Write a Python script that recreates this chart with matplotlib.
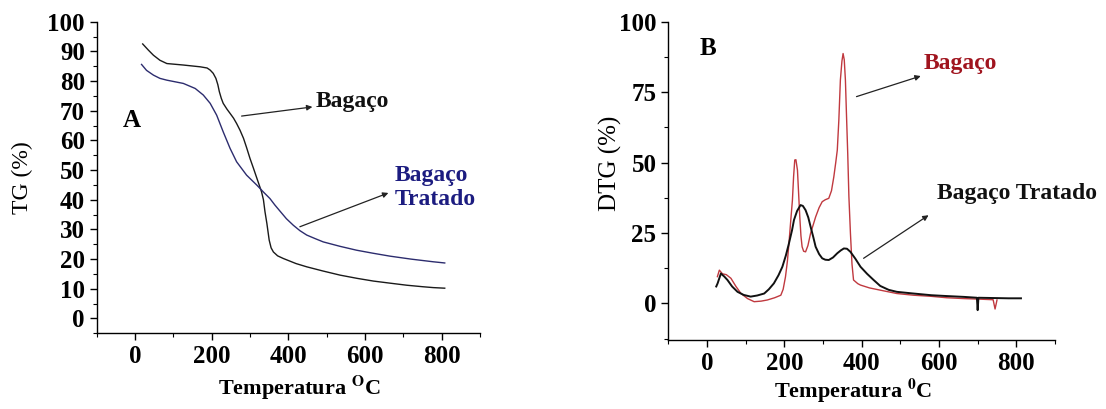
import matplotlib
matplotlib.use("Agg")
import matplotlib.pyplot as plt
from matplotlib.ticker import MultipleLocator

plt.rcParams['font.family'] = ['Liberation Serif', 'DejaVu Serif']
plt.rcParams['mathtext.fontset'] = 'stix'

# ---- Panel A: TG ----
tg_bagaco_x = [20, 35, 48, 65, 83, 126, 170, 188, 196, 204, 211, 216, 220, 225, 230, 240, 248, 257, 265, 274, 283, 291,
               300, 309, 318, 330, 335, 339, 344, 350, 355, 361, 372, 387, 420, 448, 490, 535, 580, 622, 665, 709, 750, 778, 808]
tg_bagaco_y = [92.5, 90.4, 88.7, 87.0, 85.9, 85.4, 84.8, 84.4, 83.7, 82.6, 80.9, 78.8, 76.4, 74.2, 72.5, 70.5, 69.1, 67.5, 65.7, 63.4, 60.7, 57.6,
               53.9, 50.6, 47.2, 42.7, 40.0, 36.0, 32.0, 26.4, 23.8, 22.4, 21.1, 20.2, 18.5, 17.4, 16.0, 14.6, 13.5, 12.6, 11.9, 11.2, 10.7, 10.4, 10.2]
tg_tratado_x = [17, 30, 48, 65, 83, 126, 157, 178, 196, 213, 230, 248, 265, 291, 318, 335, 352, 365, 378, 395, 413, 430,
                448, 470, 491, 535, 578, 620, 665, 720, 778, 808]
tg_tratado_y = [85.6, 83.6, 82.0, 80.9, 80.3, 79.2, 77.5, 75.3, 72.5, 68.5, 62.9, 57.3, 52.8, 48.3, 44.9, 42.6, 40.4, 38.2, 36.2, 33.6, 31.4, 29.6,
                28.1, 26.9, 25.8, 24.3, 23.0, 22.0, 21.0, 20.0, 19.1, 18.7]

# ---- Panel B: DTG ----
dtg_bagaco_x = [27, 32, 40, 50, 62, 75, 88, 105, 122, 140, 156, 175, 191, 197, 203, 208, 212, 217, 221, 224, 227, 230, 234,
                237, 240, 243, 246, 250, 255, 261, 268, 275, 281, 290, 298, 306, 315, 322, 328, 333, 337, 341, 345, 349,
                352, 355, 358, 361, 364, 367, 371, 375, 379, 390, 397, 420, 448, 491, 534, 580, 620, 665, 706, 740, 745, 750]
dtg_bagaco_y = [9.5, 11.8, 10.5, 10.2, 8.9, 6.0, 3.5, 1.7, 0.6, 0.8, 1.2, 2.0, 2.9, 5.0, 9.4, 15.0, 21.3, 30.0, 36.7, 45.0, 50.9, 51.0, 47.3,
                39.0, 30.7, 24.0, 20.1, 18.5, 18.3, 20.5, 24.9, 28.0, 30.7, 34.0, 36.1, 36.8, 37.3, 40.0, 44.9, 50.0, 54.4, 65.0, 79.3, 86.0,
                88.7, 86.5, 79.3, 66.0, 53.2, 38.0, 24.9, 14.0, 8.3, 7.0, 6.5, 5.5, 4.7, 3.5, 2.9, 2.5, 2.0, 1.7, 1.5, 1.3, -2.0, 1.2]
dtg_tratado_x = [24, 27.5, 36, 45, 53, 65, 79, 95, 113, 130, 148, 160, 173, 185, 195, 204, 212, 220, 225, 233, 242, 248, 255,
                 262, 268, 275, 281, 290, 298, 306, 315, 326, 337, 346, 354, 362, 371, 384, 397, 414, 431, 448, 470, 491,
                 534, 580, 620, 665, 698, 700, 702, 740, 780, 812]
dtg_tratado_y = [6.0, 7.1, 10.6, 9.5, 8.3, 6.0, 4.1, 3.0, 2.4, 2.8, 3.5, 5.0, 7.1, 10.0, 13.0, 17.0, 21.3, 26.0, 29.6, 32.8, 34.9, 34.6, 33.1,
                 30.5, 27.2, 23.5, 20.1, 17.5, 16.0, 15.5, 15.4, 16.3, 17.8, 18.8, 19.5, 19.4, 18.3, 15.8, 13.0, 10.5, 8.3, 6.2, 4.8, 4.1,
                 3.5, 2.9, 2.6, 2.3, 2.0, -2.4, 2.0, 1.9, 1.8, 1.8]

W, H = 1106, 409
fig = plt.figure(figsize=(W / 100, H / 100), dpi=100)

def style(ax):
    for s in ('top', 'right'):
        ax.spines[s].set_visible(False)
    ax.spines['left'].set_linewidth(1.0)
    ax.spines['bottom'].set_linewidth(1.0)
    ax.tick_params(which='major', direction='out', length=5, width=1.0, labelsize=18)
    ax.tick_params(which='minor', direction='out', length=3, width=0.8)
    for lab in ax.get_xticklabels() + ax.get_yticklabels():
        lab.set_fontweight('bold')

arrow_kw = dict(color='#222222', lw=0.9, mutation_scale=8, shrinkA=0, shrinkB=0)

# Panel A
axA = fig.add_axes([96.7 / W, 1 - 333.3 / H, (480 - 96.7) / W, (333.3 - 21.7) / H])
axA.plot(tg_bagaco_x, tg_bagaco_y, color='#1a1a1a', lw=1.0)
axA.plot(tg_tratado_x, tg_tratado_y, color='#2c2c6e', lw=1.0)
axA.set_xlim(-100, 900)
axA.set_ylim(-5, 100)
axA.set_xticks([0, 200, 400, 600, 800])
axA.set_yticks(range(0, 101, 10))
axA.xaxis.set_minor_locator(MultipleLocator(100))
axA.yaxis.set_minor_locator(MultipleLocator(5))
style(axA)
axA.set_xlabel('Temperatura $^{\\mathbf{O}}$C', fontsize=16, fontweight='bold')
axA.xaxis.set_label_coords(0.528, -0.13)
axA.set_ylabel('TG (%)', fontsize=17)
axA.yaxis.set_label_coords(-0.166, 0.5)
axA.text(-8, 66.8, 'A', fontsize=18, fontweight='bold', ha='center', va='center')
axA.annotate('Bagaço', xy=(278, 68.2), xytext=(470, 73), fontsize=17, fontweight='bold',
             color='#111111', va='center', ha='left',
             arrowprops=dict(arrowstyle='<|-', **arrow_kw))
axA.text(678, 44, 'Bagaço\nTratado', fontsize=17, fontweight='bold', color='#1c1c80',
         va='center', ha='left', linespacing=1.2)
axA.annotate('', xy=(661, 42.3), xytext=(430, 30.9),
             arrowprops=dict(arrowstyle='-|>', **arrow_kw))

# Panel B
axB = fig.add_axes([668.3 / W, 1 - 340 / H, (1055 - 668.3) / W, (340 - 21.7) / H])
axB.plot(dtg_bagaco_x, dtg_bagaco_y, color='#c0393f', lw=1.0)
axB.plot(dtg_tratado_x, dtg_tratado_y, color='#111111', lw=1.4)
axB.set_xlim(-100, 900)
axB.set_ylim(-13, 100)
axB.set_xticks([0, 200, 400, 600, 800])
axB.set_yticks([0, 25, 50, 75, 100])
axB.xaxis.set_minor_locator(MultipleLocator(100))
axB.yaxis.set_minor_locator(MultipleLocator(12.5))
style(axB)
axB.set_xlabel('Temperatura $^{\\mathbf{0}}$C', fontsize=16, fontweight='bold')
axB.xaxis.set_label_coords(0.478, -0.115)
axB.set_ylabel('DTG (%)', fontsize=18)
axB.yaxis.set_label_coords(-0.12, 0.556)
axB.text(3, 90.5, 'B', fontsize=18, fontweight='bold', ha='center', va='center')
axB.annotate('Bagaço', xy=(373, 72.8), xytext=(560, 85.2), fontsize=17, fontweight='bold',
             color='#a0141e', va='center', ha='left',
             arrowprops=dict(arrowstyle='<|-', color='#222222', lw=0.9, mutation_scale=8,
                             shrinkA=0, shrinkB=4))
axB.text(594, 39, 'Bagaço Tratado', fontsize=17, fontweight='bold', color='#111111',
         va='center', ha='left')
axB.annotate('', xy=(573, 31.3), xytext=(405, 16),
             arrowprops=dict(arrowstyle='-|>', **arrow_kw))

fig.savefig('out.png', dpi=100)
